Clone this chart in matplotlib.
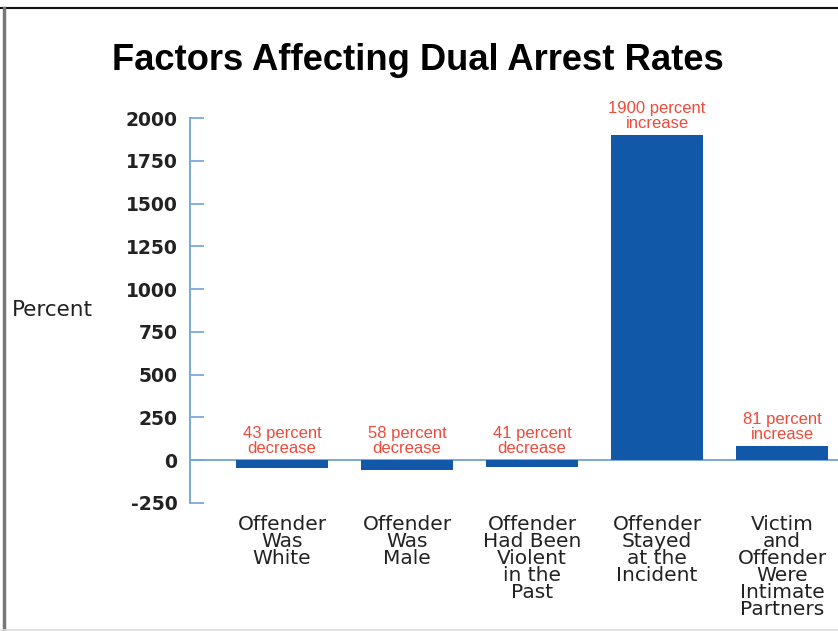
import matplotlib.pyplot as plt
from matplotlib.lines import Line2D

# data
categories = ["Offender\nWas\nWhite", "Offender\nWas\nMale",
              "Offender\nHad Been\nViolent\nin the\nPast",
              "Offender\nStayed\nat the\nIncident",
              "Victim\nand\nOffender\nWere\nIntimate\nPartners"]
values = [-43, -58, -41, 1900, 81]
notes = ["43 percent\ndecrease", "58 percent\ndecrease", "41 percent\ndecrease",
         "1900 percent\nincrease", "81 percent\nincrease"]
yticks = [-250, 0, 250, 500, 750, 1000, 1250, 1500, 1750, 2000]

blue = "#1258a8"
axis_blue = "#6fa3d8"
red = "#f04a3a"

fig = plt.figure(figsize=(8.38, 6.31), dpi=100)
ax = fig.add_axes([190 / 838, 1 - 503 / 631, 648 / 838, (503 - 118) / 631])

x = list(range(len(values)))
ax.bar(x, values, width=0.73, color=blue, zorder=3)
ax.axhline(0, color=axis_blue, lw=1.3, zorder=2)

for xi, v, n in zip(x, values, notes):
    base = max(v, 0)
    ax.text(xi, base + 25, n, ha="center", va="bottom", color=red,
            fontsize=12, family="Liberation Sans", linespacing=0.97)

ax.set_xlim(-0.736, 4.448)
ax.set_ylim(-250, 2000)
ax.set_yticks(yticks)
ax.set_yticklabels([str(t) for t in yticks], fontsize=13.5, family="DejaVu Sans",
                   color="#222222", fontweight="bold")
ax.tick_params(axis="y", direction="in", length=10, width=1.2, color=axis_blue, pad=9)

ax.set_xticks(x)
ax.set_xticklabels(categories, fontsize=14.5, family="DejaVu Sans",
                   linespacing=0.86, color="#222222")
ax.tick_params(axis="x", length=0, pad=9)

for s in ["top", "right", "bottom"]:
    ax.spines[s].set_visible(False)
ax.spines["left"].set_color(axis_blue)
ax.spines["left"].set_linewidth(1.3)

fig.text(0.499, 1 - 61 / 631, "Factors Affecting Dual Arrest Rates", ha="center",
         va="center", fontsize=26.2, fontweight="bold", family="Liberation Sans")
fig.text(12 / 838, 1 - 310 / 631, "Percent", ha="left", va="center",
         fontsize=15.5, family="DejaVu Sans", color="#222222")

# frame lines
fig.add_artist(Line2D([0, 1], [1 - 8 / 631, 1 - 8 / 631], transform=fig.transFigure,
                      color="#111111", lw=1.5))
fig.add_artist(Line2D([3.5 / 838, 3.5 / 838], [0, 1 - 8 / 631], transform=fig.transFigure,
                      color="#777777", lw=2.5))
fig.add_artist(Line2D([0, 1], [1 / 631, 1 / 631], transform=fig.transFigure,
                      color="#dddddd", lw=1.2))

fig.savefig("out.png", dpi=100)
